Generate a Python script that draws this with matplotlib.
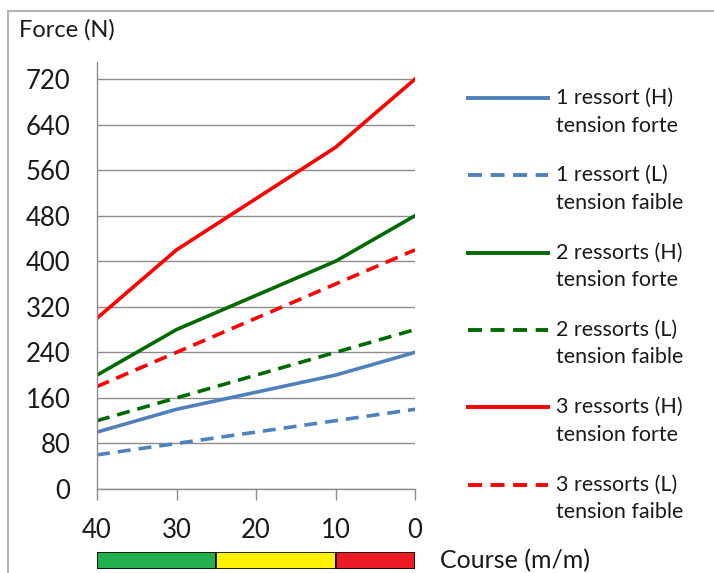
import numpy as np
import matplotlib.pyplot as plt
from matplotlib.lines import Line2D
from matplotlib.patches import Rectangle

plt.rcParams['font.family'] = ['Lato', 'DejaVu Sans']

# course (m/m)
course = [40, 30, 20, 10, 0]

# force (N) per configuration
f_1_h = [100, 140, 170, 200, 240]
f_1_l = [60, 80, 100, 120, 140]
f_2_h = [200, 280, 340, 400, 480]
f_2_l = [120, 160, 200, 240, 280]
f_3_h = [300, 420, 510, 600, 720]
f_3_l = [180, 240, 300, 360, 420]

labels = ['1 ressort (H)\ntension forte', '1 ressort (L)\ntension faible',
          '2 ressorts (H)\ntension forte', '2 ressorts (L)\ntension faible',
          '3 ressorts (H)\ntension forte', '3 ressorts (L)\ntension faible']

# colour zones under the x axis
zone_edges = [40, 25, 10, 0]
zone_colors = ['#22B14C', '#FFF200', '#ED1C24']

blue = '#4F81BD'
green = '#006A00'
red = '#FF0000'
series = [(f_1_h, blue, '-'), (f_1_l, blue, '--'),
          (f_2_h, green, '-'), (f_2_l, green, '--'),
          (f_3_h, red, '-'), (f_3_l, red, '--')]

W, H = 714, 573
txt = '#1a1a1a'
fig = plt.figure(figsize=(W/100, H/100), dpi=100)

# outer frame (only top and left visible)
fig.add_artist(Line2D([8/W, 1], [1-10.5/H]*2, color='#a6a6a6', lw=1.2))
fig.add_artist(Line2D([8/W]*2, [0, 1-10.5/H], color='#a6a6a6', lw=1.2))

ax = fig.add_axes([97/W, 1-489/H, (415-97)/W, (489-62)/H])
grid = '#8c8c8c'
for vals, col, ls in series:
    if ls == '--':
        ax.plot(course, vals, color=col, lw=2.6, linestyle=(0, (3.6, 2.2)))
    else:
        ax.plot(course, vals, color=col, lw=2.6)

ax.set_xlim(40, 0)
ax.set_ylim(0, 750)
ax.set_xticks(course)
ax.set_yticks(np.arange(0, 721, 80))
ax.yaxis.grid(True, color=grid, lw=1)
ax.set_axisbelow(True)
for s in ['top', 'right']:
    ax.spines[s].set_visible(False)
ax.spines['left'].set_color(grid)
ax.spines['bottom'].set_color(grid)
ax.spines['left'].set_linewidth(1)
ax.spines['bottom'].set_linewidth(1)
ax.tick_params(axis='y', length=0, pad=19, labelsize=18.5, labelcolor=txt)
ax.tick_params(axis='x', direction='out', length=8, width=1, color=grid,
               pad=13, labelsize=18.5, labelcolor=txt)

fig.text(19/W, 1-30/H, 'Force (N)', fontsize=17, color=txt, va='center', ha='left')

# colour bar under the axis, aligned on the data scale
bar = fig.add_axes([97/W, 1-569/H, (415-97)/W, 17/H])
bar.set_xlim(40, 0)
bar.set_ylim(0, 1)
for i, c in enumerate(zone_colors):
    bar.add_patch(Rectangle((zone_edges[i+1], 0), zone_edges[i] - zone_edges[i+1], 1,
                            facecolor=c, edgecolor='black', lw=1.2))
bar.axis('off')
fig.text(440/W, 1-561/H, 'Course (m/m)', fontsize=18, color=txt, va='center', ha='left')

# legend drawn by hand: handle aligned with first text line
y0, dy = 98, 77.3
for i, (vals, col, ls) in enumerate(series):
    y = y0 + i * dy
    if ls == '--':
        fig.add_artist(Line2D([468/W, 548/W], [1-y/H]*2, color=col, lw=2.8,
                              linestyle=(0, (3.6, 2.2))))
    else:
        fig.add_artist(Line2D([468/W, 548/W], [1-y/H]*2, color=col, lw=2.8))
    first, second = labels[i].split('\n')
    fig.text(556/W, 1-y/H, first, fontsize=15.5, color=txt, va='center', ha='left')
    fig.text(556/W, 1-(y+27.5)/H, second, fontsize=15.5, color=txt, va='center', ha='left')

fig.savefig('out.png', dpi=100)
